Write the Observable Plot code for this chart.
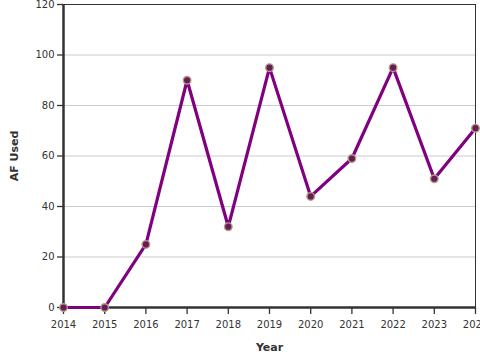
<!DOCTYPE html>
<html><head><meta charset="utf-8">
<script src="https://cdn.jsdelivr.net/npm/d3@7"></script>
<script src="https://cdn.jsdelivr.net/npm/@observablehq/plot@0.6"></script>
<style>body{margin:0;background:#fff;}</style>
</head><body>
<div id="chart"></div>
<script>
const years = [2014, 2015, 2016, 2017, 2018, 2019, 2020, 2021, 2022, 2023, 2024];
const afUsed = [0, 0, 25, 90, 32, 95, 44, 59, 95, 51, 71];
const yTicks = [0, 20, 40, 60, 80, 100, 120];
const data = years.map((y, i) => ({year: y, value: afUsed[i]}));

const chart = Plot.plot({
  width: 480, height: 360,
  marginLeft: 63, marginRight: 5, marginTop: 4, marginBottom: 53,
  style: {fontFamily: "DejaVu Sans", fontSize: "10px", color: "#333", background: "#fff"},
  x: {domain: [2014, 2024]},
  y: {domain: [0, 120]},
  marks: [
    Plot.gridY(yTicks, {stroke: "#ccc", strokeOpacity: 1}),
    Plot.frame({stroke: "#333", strokeWidth: 1}),
    Plot.ruleX([2014], {stroke: "#333", strokeWidth: 2.5}),
    Plot.ruleY([0], {stroke: "#333", strokeWidth: 2.5}),
    Plot.axisX({ticks: years, tickFormat: d => String(d), label: "Year", labelAnchor: "center", labelArrow: "none", labelOffset: 43, tickSize: 7, tickPadding: 6, stroke: "#333", strokeWidth: 1.3}),
    Plot.axisY({ticks: yTicks, label: "AF Used", labelAnchor: "center", labelArrow: "none", labelOffset: 53, tickSize: 6, tickPadding: 3, stroke: "#333", strokeWidth: 1.3}),
    Plot.line(data, {x: "year", y: "value", stroke: "#800080", strokeWidth: 3.2}),
    Plot.dot(data, {x: "year", y: "value", r: 3.8, fill: "#6a1a5a", stroke: "#b0a080", strokeWidth: 1.4})
  ]
});
d3.select(chart).selectAll("[aria-label='x-axis label'] text, [aria-label='y-axis label'] text").attr("font-weight", "bold").attr("font-size", "11px");
document.getElementById("chart").appendChild(chart);
</script>
</body></html>
